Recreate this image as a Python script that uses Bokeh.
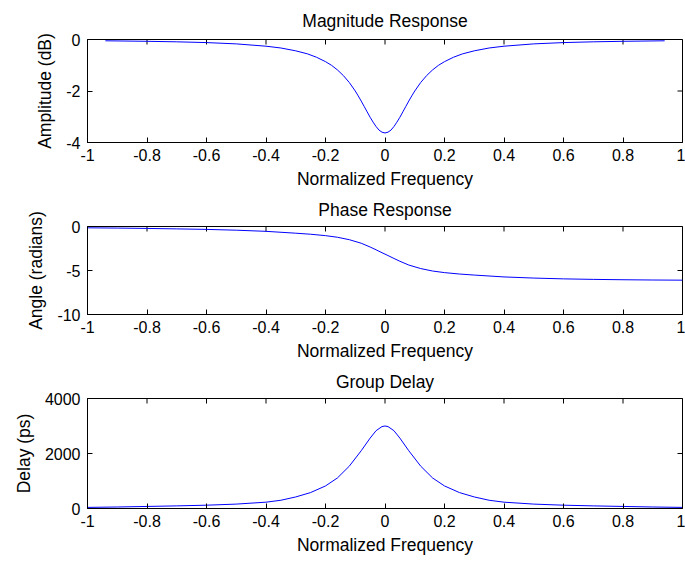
from bokeh.plotting import figure
from bokeh.layouts import column
from bokeh.models import Range1d, FixedTicker
from bokeh.embed import file_html
from bokeh.resources import INLINE
import math

# ---------------- data ----------------
x_ticks = [-1.0, -0.8, -0.6, -0.4, -0.2, 0.0, 0.2, 0.4, 0.6, 0.8, 1.0]
x_tick_labels = ["-1", "-0.8", "-0.6", "-0.4", "-0.2", "0", "0.2", "0.4", "0.6", "0.8", "1"]

# Magnitude response (dB)
mag_freq = [-0.94, -0.8, -0.7, -0.6, -0.5, -0.4, -0.35, -0.3, -0.26, -0.23, -0.2,
            -0.18, -0.16, -0.14, -0.12, -0.1, -0.09, -0.08, -0.07, -0.06, -0.05,
            -0.04, -0.03, -0.02, -0.01, 0.0, 0.01, 0.02, 0.03, 0.04, 0.05, 0.06,
            0.07, 0.08, 0.09, 0.1, 0.12, 0.14, 0.16, 0.18, 0.2, 0.23, 0.26, 0.3,
            0.35, 0.4, 0.5, 0.6, 0.7, 0.8, 0.94]
mag_db = [-0.05, -0.07, -0.09, -0.12, -0.17, -0.26, -0.33, -0.44, -0.56, -0.69, -0.86,
          -1.0, -1.18, -1.4, -1.67, -2.0, -2.19, -2.39, -2.6, -2.81, -3.02,
          -3.21, -3.38, -3.52, -3.6, -3.63, -3.6, -3.52, -3.38, -3.21, -3.02, -2.81,
          -2.6, -2.39, -2.19, -2.0, -1.67, -1.4, -1.18, -1.0, -0.86, -0.69, -0.56, -0.44,
          -0.33, -0.26, -0.17, -0.12, -0.09, -0.07, -0.05]
mag_yticks = [-4, -2, 0]
mag_ytick_labels = ["-4", "-2", "0"]

# Phase response (radians)
ph_freq = [-1.0, -0.9, -0.8, -0.7, -0.6, -0.5, -0.4, -0.3, -0.25, -0.2, -0.16, -0.12,
           -0.08, -0.05, -0.03, -0.01, 0.0, 0.01, 0.03, 0.05, 0.08, 0.12, 0.16, 0.2,
           0.25, 0.3, 0.4, 0.5, 0.6, 0.7, 0.8, 0.9, 1.0]
ph_rad = [-0.15, -0.18, -0.22, -0.27, -0.33, -0.42, -0.55, -0.76, -0.88, -1.04, -1.22, -1.5,
          -1.9, -2.33, -2.65, -2.98, -3.14, -3.30, -3.63, -3.95, -4.38, -4.78, -5.06, -5.24,
          -5.40, -5.52, -5.73, -5.86, -5.95, -6.01, -6.05, -6.08, -6.1]
ph_yticks = [-10, -5, 0]
ph_ytick_labels = ["-10", "-5", "0"]

# Group delay (ps)
gd_freq = [-1.0, -0.9, -0.8, -0.7, -0.6, -0.5, -0.4, -0.35, -0.3, -0.25, -0.2, -0.16,
           -0.12, -0.08, -0.05, -0.03, -0.01, 0.0, 0.01, 0.03, 0.05, 0.08, 0.12, 0.16,
           0.2, 0.25, 0.3, 0.35, 0.4, 0.5, 0.6, 0.7, 0.8, 0.9, 1.0]
gd_ps = [40, 55, 75, 95, 120, 160, 230, 300, 420, 580, 820, 1110,
         1540, 2100, 2560, 2830, 2980, 3000, 2980, 2830, 2560, 2100, 1540, 1110,
         820, 580, 420, 300, 230, 160, 120, 95, 75, 55, 40]
gd_yticks = [0, 2000, 4000]
gd_ytick_labels = ["0", "2000", "4000"]

FONT = "Liberation Sans"
TICK_SIZE = "16px"
LABEL_SIZE = "17.5px"


def make_fig(title, height, top, bottom, title_standoff, yrange, yticks, ylabels, ylabel, xs, ys):
    p = figure(width=685, height=height, x_range=Range1d(-1, 1), y_range=Range1d(*yrange),
               output_backend="svg", toolbar_location=None, tools="",
               min_border_left=87, min_border_right=3, min_border_top=top,
               min_border_bottom=bottom, background_fill_color="white",
               border_fill_color="white")
    p.xgrid.visible = False
    p.ygrid.visible = False
    p.outline_line_color = "black"
    p.outline_line_alpha = 1.0
    p.outline_line_width = 1

    p.title.text = title
    p.title.align = "center"
    p.title.text_font = FONT
    p.title.text_font_size = LABEL_SIZE
    p.title.text_font_style = "normal"
    p.title.text_color = "black"
    p.title.standoff = title_standoff

    xa = p.xaxis[0]
    xa.ticker = FixedTicker(ticks=x_ticks)
    xa.major_label_overrides = {t: l for t, l in zip(x_ticks, x_tick_labels)}
    xa.axis_label = "Normalized Frequency"
    ya = p.yaxis[0]
    ya.ticker = FixedTicker(ticks=yticks)
    ya.major_label_overrides = {t: l for t, l in zip(yticks, ylabels)}
    ya.axis_label = ylabel

    for ax, ls, al in ((xa, 6, 5), (ya, 7, 8)):
        ax.major_tick_in = 5
        ax.major_tick_out = 0
        ax.minor_tick_line_color = None
        ax.axis_line_color = "black"
        ax.major_tick_line_color = "black"
        ax.major_label_text_font = FONT
        ax.major_label_text_font_size = TICK_SIZE
        ax.major_label_text_color = "black"
        ax.major_label_standoff = ls
        ax.axis_label_text_font = FONT
        ax.axis_label_text_font_size = LABEL_SIZE
        ax.axis_label_text_font_style = "normal"
        ax.axis_label_text_color = "black"
        ax.axis_label_standoff = al

    # inward ticks on the top and right edges of the box (dash markers clipped by the frame)
    ymax = yrange[1]
    p.scatter(x=x_ticks, y=[ymax] * len(x_ticks), marker="dash", size=10,
              angle=math.pi / 2, line_color="black", line_width=1)
    p.scatter(x=[1.0] * len(yticks), y=yticks, marker="dash", size=10,
              line_color="black", line_width=1)

    p.line(xs, ys, line_color="#0000ff", line_width=1)
    return p


p1 = make_fig("Magnitude Response", 191, 39, 49, 17, (-4, 0), mag_yticks, mag_ytick_labels,
              "Amplitude (dB)", mag_freq, mag_db)
p2 = make_fig("Phase Response", 172, 34, 49, 13, (-10, 0), ph_yticks, ph_ytick_labels,
              "Angle (radians)", ph_freq, ph_rad)
p3 = make_fig("Group Delay", 201, 35, 56, 13, (0, 4000), gd_yticks, gd_ytick_labels,
              "Delay (ps)", gd_freq, gd_ps)

layout = column(p1, p2, p3, spacing=0)
open("out.html", "w").write(file_html(layout, INLINE))
